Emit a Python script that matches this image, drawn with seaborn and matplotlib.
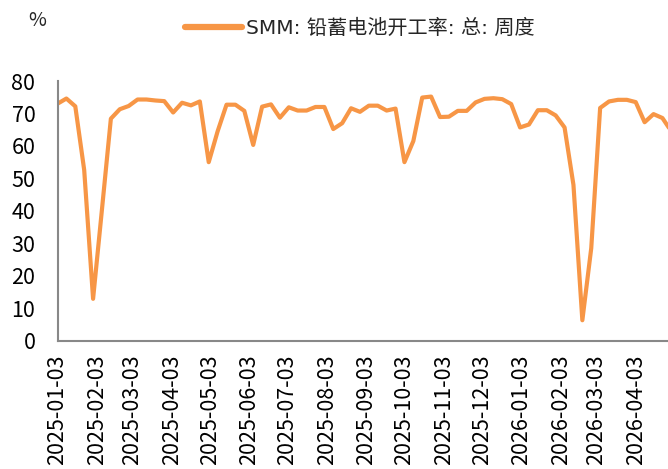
import matplotlib
matplotlib.use("Agg")
import matplotlib.pyplot as plt
import matplotlib.dates as mdates
import seaborn as sns
import pandas as pd
import numpy as np
from matplotlib.lines import Line2D

# ---- data (weekly) ----
start_date = "2025-01-03"
n_weeks = 70
rate = [73.0, 74.6, 72.2, 52.6, 12.9, 40.5, 68.4, 71.3, 72.3, 74.3,
        74.3, 74.0, 73.8, 70.3, 73.3, 72.5, 73.7, 55.0, 64.5, 72.7,
        72.7, 70.8, 60.3, 72.1, 72.8, 68.7, 71.9, 70.9, 70.9, 72.0,
        72.0, 65.2, 67.0, 71.6, 70.5, 72.4, 72.4, 70.9, 71.5, 55.0,
        61.5, 74.9, 75.2, 68.9, 69.0, 70.8, 70.8, 73.4, 74.5, 74.7,
        74.4, 72.9, 65.7, 66.6, 71.0, 71.0, 69.4, 65.7, 48.0, 6.3,
        28.5, 71.7, 73.7, 74.2, 74.2, 73.5, 67.3, 69.8, 68.6, 64.5]
series_name = "SMM: 铅蓄电池开工率: 总: 周度"
tick_dates = ["2025-01-03", "2025-02-03", "2025-03-03", "2025-04-03", "2025-05-03",
              "2025-06-03", "2025-07-03", "2025-08-03", "2025-09-03", "2025-10-03",
              "2025-11-03", "2025-12-03", "2026-01-03", "2026-02-03", "2026-03-03",
              "2026-04-03"]
y_ticks = [0, 10, 20, 30, 40, 50, 60, 70, 80]

dates = pd.date_range(start_date, periods=n_weeks, freq="7D")
df = pd.DataFrame({"date": dates, "value": rate, "series": series_name})

sns.set_style("white")
plt.rcParams["font.family"] = ["Noto Sans CJK SC", "DejaVu Sans"]

W, H = 668, 469
fig = plt.figure(figsize=(W / 100, H / 100), dpi=100)
ax = fig.add_axes([57.5 / W, 1 - 340.7 / H, 1 - 57.5 / W, (340.7 - 81) / H])

color = "#F79646"
sns.lineplot(data=df, x="date", y="value", hue="series", palette=[color],
             linewidth=3.0, ax=ax, legend=False)

ax.set_ylim(0, 80)
ax.set_yticks(y_ticks)
x0 = pd.Timestamp(start_date)
x1 = x0 + pd.Timedelta(days=480.4)
ax.set_xlim(x0, x1)
ax.set_xticks([pd.Timestamp(d) for d in tick_dates])
ax.xaxis.set_major_formatter(mdates.DateFormatter("%Y-%m-%d"))
for lab in ax.get_xticklabels():
    lab.set_rotation(90)

ax.set_xlabel("")
ax.set_ylabel("")
for s in ["top", "right"]:
    ax.spines[s].set_visible(False)
for s in ["left", "bottom"]:
    ax.spines[s].set_color("#888888")
    ax.spines[s].set_linewidth(1.5)

ax.tick_params(axis="both", direction="in", length=6, width=1.3, color="#888888",
               labelsize=15.5, labelcolor="#000000")
ax.tick_params(axis="y", pad=16)
ax.tick_params(axis="x", pad=10)

fig.text(28 / W, 1 - 20 / H, "%", fontsize=14, ha="left", va="center")

handle = Line2D([], [], color=color, linewidth=4.5, solid_capstyle="round")
leg = fig.legend([handle], [series_name], loc="center", bbox_to_anchor=(360 / W, 1 - 28 / H),
                 frameon=False, fontsize=14.5, handlelength=2.8, handletextpad=0.2,
                 prop={"family": ["DejaVu Sans", "Noto Sans CJK SC"], "size": 14.5})

fig.savefig("out.png", dpi=100)
